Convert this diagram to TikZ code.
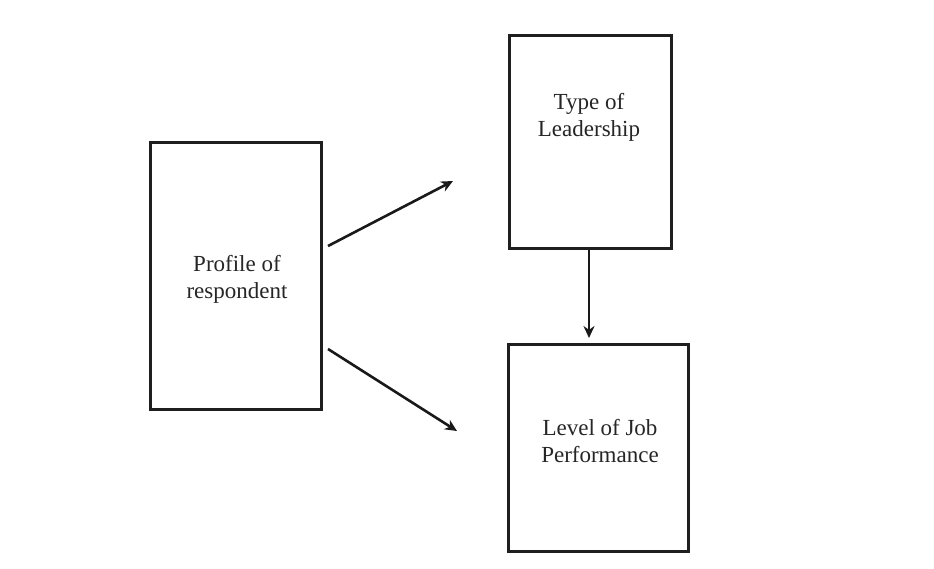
\documentclass[tikz,border=0pt]{standalone}
\usepackage{fontspec}
\setmainfont{Liberation Serif}
\usetikzlibrary{arrows.meta}
\begin{document}
\begin{tikzpicture}[x=1pt,y=-1pt,
  box/.style={draw=black!88, line width=3pt, fill=white, inner sep=0pt},
  lbl/.style={font=\fontsize{23}{27}\selectfont, text=black!85, align=center, inner sep=0pt},
  conn/.style={line width=2.6pt, draw=black!90, -{Stealth[length=12pt,width=11pt]}}]
\useasboundingbox (0,0) rectangle (934,568);
% boxes
\node[box, minimum width=171pt, minimum height=267pt] (profile) at (235.5,275.5) {};
\node[box, minimum width=162pt, minimum height=213pt] (type) at (590,141.5) {};
\node[box, minimum width=180pt, minimum height=207pt] (level) at (598,447.5) {};
% labels
\node[lbl] (tprofile) at (237,279) {Profile of\\respondent};
\node[lbl] (ttype) at (589,117) {Type of\\Leadership};
\node[lbl] (tlevel) at (600,441) {Level of Job\\Performance};
% connector ends
\coordinate (s1) at (328,246);
\coordinate (e1) at (453,181);
\coordinate (s2) at (328,349);
\coordinate (e2) at (457,431);
\coordinate (e3) at (589,338);
\draw[conn] (s1) -- (e1);
\draw[conn] (s2) -- (e2);
\draw[conn] (type.south -| e3) -- (e3);
\end{tikzpicture}
\end{document}
